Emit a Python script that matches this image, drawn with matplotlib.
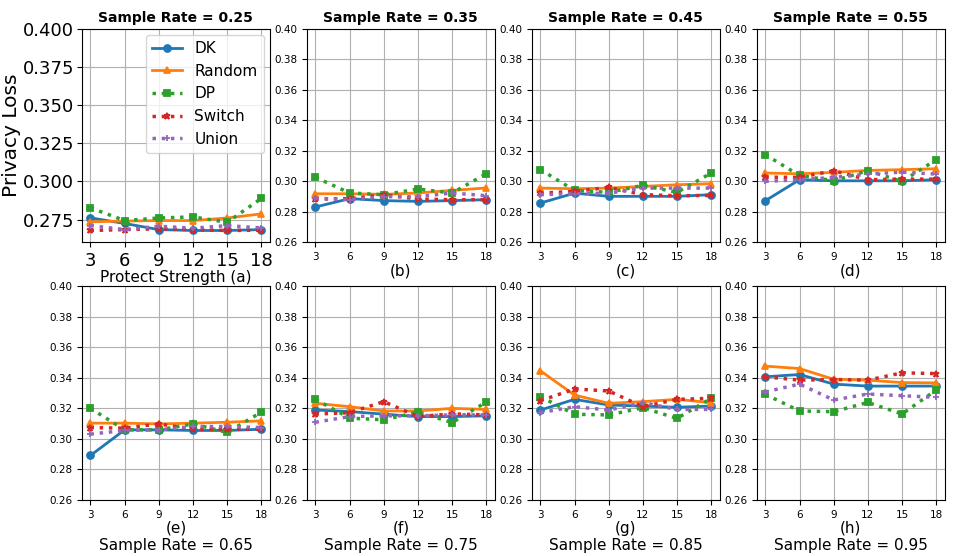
import matplotlib
matplotlib.use('Agg')
import matplotlib.pyplot as plt
from matplotlib.ticker import FormatStrFormatter

plt.rcParams['font.family'] = ['DejaVu Sans']

# data
strengths = [3, 6, 9, 12, 15, 18]
sample_rates = ['0.25', '0.35', '0.45', '0.55', '0.65', '0.75', '0.85', '0.95']
letters = ['a', 'b', 'c', 'd', 'e', 'f', 'g', 'h']
methods = ['DK', 'Random', 'DP', 'Switch', 'Union']

# one row per sample rate
dk_loss = [
    [0.2761, 0.2724, 0.2684, 0.2678, 0.2678, 0.2684],
    [0.2832, 0.2887, 0.2874, 0.2869, 0.2874, 0.2880],
    [0.2858, 0.2923, 0.2902, 0.2902, 0.2902, 0.2913],
    [0.2873, 0.3011, 0.3004, 0.3004, 0.3004, 0.3011],
    [0.2891, 0.3059, 0.3059, 0.3055, 0.3055, 0.3063],
    [0.3189, 0.3179, 0.3162, 0.3146, 0.3146, 0.3151],
    [0.3189, 0.3259, 0.3222, 0.3215, 0.3207, 0.3215],
    [0.3407, 0.3422, 0.3359, 0.3346, 0.3346, 0.3346],
]
random_loss = [
    [0.2735, 0.2740, 0.2743, 0.2743, 0.2760, 0.2787],
    [0.2919, 0.2919, 0.2915, 0.2924, 0.2941, 0.2957],
    [0.2956, 0.2952, 0.2956, 0.2967, 0.2978, 0.2985],
    [0.3055, 0.3050, 0.3059, 0.3072, 0.3077, 0.3083],
    [0.3103, 0.3103, 0.3098, 0.3103, 0.3109, 0.3118],
    [0.3233, 0.3211, 0.3183, 0.3183, 0.3200, 0.3193],
    [0.3446, 0.3287, 0.3233, 0.3244, 0.3259, 0.3237],
    [0.3477, 0.3461, 0.3391, 0.3385, 0.3369, 0.3367],
]
dp_loss = [
    [0.2827, 0.2743, 0.2760, 0.2767, 0.2732, 0.2888],
    [0.3027, 0.2924, 0.2913, 0.2950, 0.2924, 0.3050],
    [0.3077, 0.2941, 0.2928, 0.2974, 0.2928, 0.3055],
    [0.3175, 0.3039, 0.3004, 0.3070, 0.3000, 0.3142],
    [0.3200, 0.3059, 0.3059, 0.3098, 0.3042, 0.3175],
    [0.3259, 0.3136, 0.3125, 0.3175, 0.3107, 0.3241],
    [0.3277, 0.3161, 0.3157, 0.3204, 0.3134, 0.3266],
    [0.3292, 0.3183, 0.3178, 0.3239, 0.3163, 0.3320],
]
switch_loss = [
    [0.2678, 0.2684, 0.2689, 0.2684, 0.2678, 0.2680],
    [0.2884, 0.2887, 0.2913, 0.2884, 0.2880, 0.2880],
    [0.2923, 0.2934, 0.2961, 0.2913, 0.2906, 0.2908],
    [0.3028, 0.3026, 0.3070, 0.3011, 0.3015, 0.3015],
    [0.3074, 0.3070, 0.3098, 0.3063, 0.3063, 0.3063],
    [0.3162, 0.3172, 0.3244, 0.3146, 0.3164, 0.3157],
    [0.3250, 0.3327, 0.3314, 0.3211, 0.3259, 0.3266],
    [0.3407, 0.3385, 0.3389, 0.3385, 0.3433, 0.3428],
]
union_loss = [
    [0.2710, 0.2684, 0.2706, 0.2693, 0.2710, 0.2695],
    [0.2890, 0.2880, 0.2900, 0.2900, 0.2924, 0.2906],
    [0.2913, 0.2920, 0.2923, 0.2956, 0.2956, 0.2956],
    [0.3000, 0.3011, 0.3026, 0.3048, 0.3061, 0.3048],
    [0.3031, 0.3055, 0.3059, 0.3081, 0.3081, 0.3074],
    [0.3109, 0.3146, 0.3151, 0.3151, 0.3157, 0.3157],
    [0.3172, 0.3211, 0.3189, 0.3237, 0.3193, 0.3193],
    [0.3308, 0.3359, 0.3255, 0.3294, 0.3283, 0.3272],
]

all_loss = [dk_loss, random_loss, dp_loss, switch_loss, union_loss]
colors = ['#1f77b4', '#ff7f0e', '#2ca02c', '#d62728', '#9467bd']
markers = ['o', '^', 's', '*', '+']
styles = ['-', '-', ':', ':', ':']
widths = [2, 2, 2.5, 2.5, 2.5]

fig, axes = plt.subplots(2, 4, figsize=(9.64, 5.56), dpi=100)
plt.subplots_adjust(left=0.085, right=0.980, top=0.948, bottom=0.101,
                    wspace=0.197, hspace=0.206)

for i, ax in enumerate(axes.flat):
    for m in range(len(methods)):
        ax.plot(strengths, all_loss[m][i], linestyle=styles[m], marker=markers[m],
                color=colors[m], lw=widths[m], markersize=5, mew=1.3,
                label=methods[m])
    ax.set_ylim(0.26, 0.40)
    ax.set_xticks(strengths)
    ax.grid(True, color='#b0b0b0', lw=0.8)
    if i == 0:
        ax.set_yticks([0.275, 0.300, 0.325, 0.350, 0.375, 0.400])
        ax.yaxis.set_major_formatter(FormatStrFormatter('%.3f'))
        ax.tick_params(labelsize=13)
        ax.tick_params(axis='y', pad=2)
        ax.set_ylabel('Privacy Loss', fontsize=14.5, labelpad=1)
        ax.set_xlabel('Protect Strength (a)', fontsize=11, labelpad=0)
        ax.legend(loc='upper right', fontsize=11, borderaxespad=0.4)
    else:
        ax.set_yticks([0.26, 0.28, 0.30, 0.32, 0.34, 0.36, 0.38, 0.40])
        ax.yaxis.set_major_formatter(FormatStrFormatter('%.2f'))
        ax.tick_params(labelsize=7.5)
        if i < 4:
            ax.set_xlabel('(%s)' % letters[i], fontsize=11, labelpad=1)
        else:
            ax.set_xlabel('(%s)\nSample Rate = %s' % (letters[i], sample_rates[i]),
                          fontsize=11, labelpad=1)
    if i < 4:
        ax.set_title('Sample Rate = %s' % sample_rates[i], fontsize=10,
                     fontweight='bold', pad=5)

plt.savefig('out.png', dpi=100)
